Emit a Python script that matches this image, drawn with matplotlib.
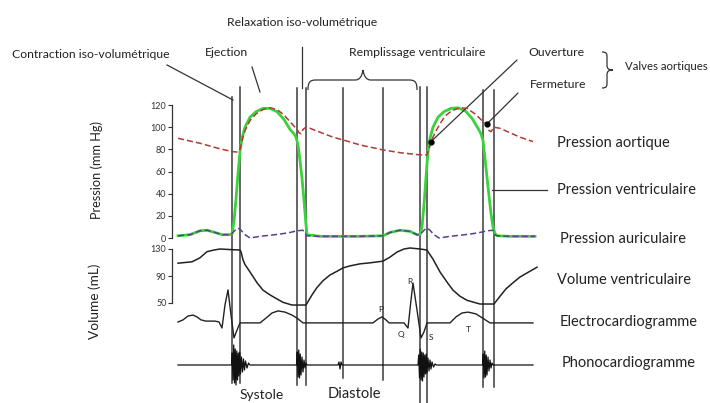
import matplotlib
matplotlib.use("Agg")
import matplotlib.pyplot as plt
from matplotlib.path import Path
from matplotlib.patches import PathPatch
from matplotlib.transforms import blended_transform_factory

plt.rcParams['font.family'] = ['Lato', 'DejaVu Sans']

# ---------------- data (time in ms) ----------------
vent_t = [0, 48, 88, 116, 148, 176, 208, 216, 224, 232, 240, 248, 256, 268, 288, 312, 340, 368,
          396, 424, 448, 464, 472, 480, 488, 496, 504, 512, 516, 568, 648, 728, 820, 848, 888, 928,
          956, 968, 976, 984, 992, 1000, 1008, 1020, 1040, 1064, 1092, 1120, 1148, 1176, 1200,
          1212, 1220, 1228, 1236, 1244, 1252, 1260, 1268, 1276, 1328, 1428]
vent_p = [2, 3, 6.5, 7, 5, 3, 3, 4, 15, 35, 58, 78, 90, 100, 109, 114, 117, 117,
          114, 107, 98, 94, 91, 84, 70, 54, 34, 12, 3, 1.5, 1.5, 1.5, 2, 5, 7, 6,
          3, 3, 10, 30, 55, 78, 90, 100, 109, 114, 117, 117.5, 115, 108, 99,
          94, 88, 72, 55, 38, 22, 10, 4, 2, 1.5, 1.5]

aort_t = [0, 48, 88, 128, 168, 216, 240, 248, 256, 268, 288, 312, 340, 368, 396, 424, 448, 464,
          476, 484, 492, 500, 512, 528, 568, 620, 668, 728, 820, 888, 968, 996, 1004, 1012,
          1028, 1048, 1068, 1096, 1128, 1156, 1188, 1216, 1236, 1244, 1252, 1264, 1288, 1328,
          1368, 1420]
aort_p = [90, 87.5, 85.5, 83, 80.5, 78, 77.5, 80, 88, 97, 106, 112, 116, 117.5, 116, 111, 105, 101,
          98, 95, 94, 98, 100, 99, 95.5, 91, 88, 84, 79.5, 77, 75, 75, 80, 87,
          95, 103, 110, 115, 117.5, 117, 112, 106, 103, 97, 96, 100, 99, 95,
          91, 87]

atr_t = [0, 48, 88, 116, 148, 176, 208, 216, 228, 240, 252, 268, 288, 328, 368, 408, 448, 476,
         500, 512, 516, 568, 648, 728, 820, 848, 888, 928, 956, 968, 984, 996, 1008, 1024,
         1044, 1088, 1128, 1168, 1208, 1236, 1260, 1268, 1276, 1328, 1428]
atr_p = [2, 3, 6.5, 7, 5, 3, 3, 4, 7, 9, 7, 3, 0, 1.5, 2.5, 3.5, 5, 6.5,
         7, 3, 2, 1.5, 1.5, 1.5, 2, 5, 7, 6, 3, 3, 7, 9, 7, 3,
         0, 1.5, 2.5, 3.5, 5, 6.5, 7, 3, 2, 1.5, 1.5]

vol_t = [0, 56, 88, 116, 144, 168, 216, 248, 252, 260, 268, 288, 316, 340, 368, 396, 420, 456,
         512, 520, 536, 556, 580, 608, 636, 660, 688, 728, 768, 820, 848, 876, 904, 928, 968,
         996, 1000, 1020, 1048, 1076, 1100, 1128, 1156, 1184, 1208, 1264, 1288, 1312, 1340,
         1368, 1396, 1436]
vol_v = [109, 111, 117, 126, 128.5, 130, 129, 128.5, 126, 114, 107, 96, 80, 69, 62, 56, 51, 47,
         47, 52, 62, 73, 83, 91.5, 97, 102, 105, 108, 109.5, 112, 118, 125.5, 130, 131.5, 130,
         128.5, 126, 115, 96, 81, 69, 60, 54, 51, 48.5, 48.5, 60, 71, 80,
         88.5, 94.5, 103]

ecg_t = [0, 20, 40, 60, 76, 92, 112, 148, 164, 176, 188, 200, 212, 224, 236, 248, 328, 352, 376,
         400, 428, 456, 476, 500, 780, 800, 816, 832, 844, 904, 920, 932, 940, 956, 972, 984,
         996, 1088, 1112, 1136, 1160, 1192, 1224, 1248, 1420]
ecg_v = [0, 0.07, 0.2, 0.23, 0.17, 0.07, 0.03, 0.03, 0, -0.2, 0.57, 1.07, 0.23, -0.53, -0.27, -0.03,
         -0.03, 0.13, 0.3, 0.37, 0.33, 0.23, 0.13, -0.03, -0.03, 0.1, 0.17, 0.07, -0.03, -0.03,
         -0.2, 0.73, 1.3, 0.4, -0.53, -0.33, -0.03, -0.03, 0.17, 0.3, 0.33, 0.27, 0.1, -0.03, -0.03]
ecg_marks = ['P', 'Q', 'R', 'S', 'T']

phono_t = [0, 214, 217, 220, 223, 226, 229, 232, 235, 238, 241, 244, 247, 250, 254, 258, 262, 266,
           270, 276, 282, 288, 474, 477, 480, 483, 486, 489, 492, 496, 500, 504, 508, 512, 516,
           640, 644, 648, 652, 656, 960, 963, 966, 969, 972, 975, 978, 981, 984, 987, 990, 993,
           996, 1000, 1004, 1008, 1012, 1016, 1022, 1028, 1034, 1218, 1221, 1224, 1227, 1230,
           1233, 1236, 1240, 1244, 1248, 1252, 1256, 1260, 1420]
phono_a = [0, 0, 1.2, -1.5, 2.0, -1.8, 1.6, -2.0, 1.4, -1.5, 1.2, -1.1, 1.3, -0.9, 0.8, -0.7, 0.6, -0.5,
           0.4, -0.3, 0.2, 0, 0, 1.3, -1.2, 1.5, -1.3, 1.1, -1.0, 0.8, -0.7, 0.5, -0.3, 0.2, 0,
           0, 0.3, -0.4, 0.3, 0, 0, 1.0, -1.3, 1.6, -1.5, 1.3, -1.6, 1.2, -1.2, 1.0, -0.9, 1.1,
           -0.8, 0.7, -0.6, 0.5, -0.4, 0.3, -0.2, 0.1, 0, 0, 1.1, -1.3, 1.4, -1.2, 1.0,
           -1.0, 0.8, -0.6, 0.5, -0.3, 0.2, 0, 0]

event_t = [216, 248, 476, 512, 660, 820, 968, 996, 1220, 1264]
valve_open = (1012, 87)
valve_close = (1236, 103)

p_ticks = [0, 20, 40, 60, 80, 100, 120]
v_ticks = [50, 90, 130]

right_labels = ['Pression aortique', 'Pression ventriculaire', 'Pression auriculaire',
                'Volume ventriculaire', 'Electrocardiogramme', 'Phonocardiogramme']

# ---------------- layout ----------------
W, H = 710, 403
fig = plt.figure(figsize=(W / 100, H / 100), dpi=100)
PX_PER_MS = 0.25
X0 = 178
xlim = (-X0 / PX_PER_MS, (W - X0) / PX_PER_MS)


def lim(ref_val, ref_px, px_per_unit):
    return (ref_val - (H - ref_px) / px_per_unit, ref_val + ref_px / px_per_unit)


def new_axes(ylim):
    ax = fig.add_axes([0, 0, 1, 1])
    ax.set_xlim(*xlim)
    ax.set_ylim(*ylim)
    ax.patch.set_alpha(0)
    for s in ax.spines.values():
        s.set_visible(False)
    ax.set_xticks([])
    ax.set_yticks([])
    return ax


ann = new_axes((H, 0))
ann.set_xlim(0, W)

ax_p = new_axes(lim(0, 238, 1.108))
ax_v = new_axes(lim(130, 249, 0.675))
ax_e = new_axes(lim(0, 322, 30))
ax_s = new_axes(lim(0, 365, 10))

axis_t = (172 - X0) / PX_PER_MS
for ax, ticks in ((ax_p, p_ticks), (ax_v, v_ticks)):
    sp = ax.spines['left']
    sp.set_visible(True)
    sp.set_position(('data', axis_t))
    sp.set_bounds(ticks[0], ticks[-1])
    sp.set_linewidth(0.9)
    sp.set_color('#333333')
    ax.set_yticks(ticks)
    ax.tick_params(axis='y', direction='out', length=3, width=0.8, labelsize=6.5,
                   pad=1, colors='#333333')

txt = '#222222'
ann.text(97, 170, 'Pression (mm Hg)', rotation=90, ha='center', va='center', fontsize=9.2, color=txt)
ann.text(95, 301, 'Volume (mL)', rotation=90, ha='center', va='center', fontsize=9.8, color=txt)

# event lines
blend = blended_transform_factory(ax_p.transData, ann.transData)
tops = [97, 87, 88, 88, 88, 88, 87, 87, 90, 90]
bots = [383, 383, 385, 385, 378, 380, 403, 403, 387, 387]
for t, y0, y1 in zip(event_t, tops, bots):
    ann.plot([t, t], [y0, y1], color='#3a3a3a', lw=1.1, transform=blend, zorder=2)

# curves
ax_p.plot(vent_t, vent_p, color='#3ad23a', lw=2.0, zorder=3, solid_joinstyle='round')
ax_p.plot(aort_t, aort_p, color='#b03a35', lw=1.1, ls=(0, (4, 2)), zorder=4)
ax_p.plot(atr_t, atr_p, color='#5a3f8e', lw=1.1, ls=(0, (4, 2)), zorder=4)
ax_p.plot(*valve_open, 'o', color='black', ms=3.5, zorder=5)
ax_p.plot(*valve_close, 'o', color='black', ms=3.5, zorder=5)
ax_v.plot(vol_t, vol_v, color='#222222', lw=1.1, zorder=3)
ax_e.plot(ecg_t, ecg_v, color='#222222', lw=1.0, zorder=3)
ax_s.plot(phono_t, phono_a, color='#111111', lw=0.9, zorder=3)

# ECG letters
for s, (x, y) in zip(ecg_marks, [(381, 309), (401, 334), (410, 282), (431, 337), (468, 329)]):
    ann.text(x, y, s, fontsize=6, ha='center', va='center', color=txt)

# pointers
for (x0, y0), (x1, y1) in [((167, 65), (233, 100)), ((252, 67), (260, 92)),
                           ((302, 47), (302, 88)), ((492, 190), (547, 190))]:
    ann.plot([x0, x1], [y0, y1], color='#333333', lw=0.9)
ax_p.annotate('', xy=valve_open, xytext=(517, 60), textcoords=ann.transData,
              arrowprops=dict(arrowstyle='-', color='#333333', lw=0.9, shrinkA=0, shrinkB=0))
ax_p.annotate('', xy=valve_close, xytext=(518, 93), textcoords=ann.transData,
              arrowprops=dict(arrowstyle='-', color='#333333', lw=0.9, shrinkA=0, shrinkB=0))

# braces
C = Path.CURVE4
L = Path.LINETO
M = Path.MOVETO
hb = [(308, 90), (308, 82), (310, 80), (316, 80), (355, 80), (360, 80), (362, 76), (363, 70),
      (364, 76), (366, 80), (371, 80), (409, 80), (415, 80), (417, 82), (417, 90)]
hc = [M, C, C, C, L, C, C, C, C, C, C, L, C, C, C]
ann.add_patch(PathPatch(Path(hb, hc), fill=False, lw=0.9, color='#333333'))
vb = [(602, 52), (607, 52), (607, 54), (607, 58), (607, 65), (607, 69), (609, 70), (613, 70),
      (609, 70), (607, 71), (607, 75), (607, 82), (607, 86), (607, 88), (602, 88)]
ann.add_patch(PathPatch(Path(vb, hc), fill=False, lw=0.9, color='#333333'))

# top labels
fs_top = 8.8
ann.text(302, 22, 'Relaxation iso-volumétrique', ha='center', va='center', fontsize=fs_top, color=txt)
ann.text(12, 54, 'Contraction iso-volumétrique', ha='left', va='center', fontsize=fs_top, color=txt)
ann.text(205, 53, 'Ejection', ha='left', va='center', fontsize=fs_top, color=txt)
ann.text(417, 52, 'Remplissage ventriculaire', ha='center', va='center', fontsize=fs_top, color=txt)
ann.text(528, 52, 'Ouverture', ha='left', va='center', fontsize=fs_top, color=txt)
ann.text(530, 85, 'Fermeture', ha='left', va='center', fontsize=fs_top, color=txt)
ann.text(625, 67, 'Valves aortiques', ha='left', va='center', fontsize=8.2, color=txt)

# right labels
for s, (x, y) in zip(right_labels, [(557, 143), (557, 190), (560, 239), (557, 280), (560, 322), (562, 363)]):
    ann.text(x, y, s, ha='left', va='center', fontsize=10.5, color=txt)

ann.text(262, 395, 'Systole', ha='center', va='center', fontsize=10, color=txt)
ann.text(354, 394, 'Diastole', ha='center', va='center', fontsize=10.5, color=txt)

fig.savefig('out.png', dpi=100)
